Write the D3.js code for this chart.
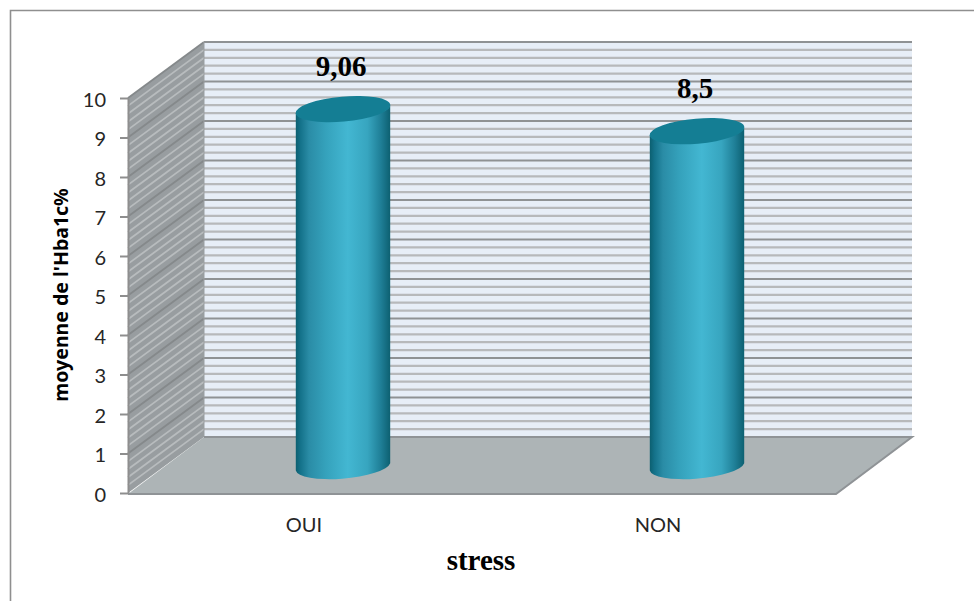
<!DOCTYPE html>
<html>
<head>
<meta charset="utf-8">
<script src="https://cdn.jsdelivr.net/npm/d3@7"></script>
<style>
  html, body { margin: 0; padding: 0; background: #fff; }
  svg { display: block; }
</style>
</head>
<body>
<svg id="chart" width="974" height="602"></svg>
<script>
const categories = ["OUI", "NON"];
const values = [9.06, 8.5];
const valueLabels = ["9,06", "8,5"];
const yTickValues = [0, 1, 2, 3, 4, 5, 6, 7, 8, 9, 10];
const minorStep = 0.2;
const yTitle = "moyenne de l'Hba1c%";
const xTitle = "stress";

const svg = d3.select("#chart");
const depth = { x: 76, y: -56 };

const y = d3.scaleLinear().domain([0, 10]).range([493, 98]);
const x = d3.scaleBand().domain(categories).range([128, 836]);
const gridValues = d3.range(0, 50 + 1).map(i => i * minorStep);
const isMajor = v => Math.abs(v - Math.round(v)) < 1e-6;

// Horizontal shading of the cylinders
const defs = svg.append("defs");
const grad = defs.append("linearGradient").attr("id", "cyl")
  .attr("x1", 0).attr("x2", 1).attr("y1", 0).attr("y2", 0);
[[0, "#0c5f70"], [0.05, "#14728a"], [0.14, "#2a8ca6"], [0.32, "#35a2bc"],
 [0.55, "#43b7d2"], [0.76, "#37a5bf"], [0.9, "#1f7f97"], [1, "#0d6071"]]
  .forEach(([o, c]) => grad.append("stop").attr("offset", o).attr("stop-color", c));

// Outer frame (open on the right and at the bottom)
svg.append("path")
  .attr("d", "M10.5,601V10.5H974")
  .attr("fill", "none").attr("stroke", "#8f8f8f").attr("stroke-width", 1.6);

const x0 = x.range()[0], x1 = x.range()[1];
const backL = x0 + depth.x, backR = x1 + depth.x;

// Back wall
svg.append("rect")
  .attr("x", backL).attr("y", y(10) + depth.y)
  .attr("width", backR - backL).attr("height", y(0) - y(10))
  .attr("fill", "#e7eef7");

// Side wall
svg.append("path")
  .attr("d", d3.line()([[x0, y(0)], [x0, y(10)], [backL, y(10) + depth.y], [backL, y(0) + depth.y]]) + "Z")
  .attr("fill", "#989da0");

// Grid lines on both walls, drawn minor first so majors sit on top
const ordered = gridValues.slice().sort((a, b) => isMajor(a) - isMajor(b));
const grid = svg.append("g").attr("fill", "none");
ordered.filter(v => v > 0).forEach(v => {
  const major = isMajor(v);
  grid.append("line")
    .attr("x1", backL).attr("x2", backR)
    .attr("y1", y(v) + depth.y).attr("y2", y(v) + depth.y)
    .attr("stroke", major ? "#8f9294" : "#b7b9bb")
    .attr("stroke-width", 2.2);
  grid.append("line")
    .attr("x1", x0).attr("x2", backL)
    .attr("y1", y(v)).attr("y2", y(v) + depth.y)
    .attr("stroke", major ? "#85898b" : "#b8bcbe")
    .attr("stroke-width", 1.8);
});

// Wall edge at the back corner
svg.append("line")
  .attr("x1", backL).attr("x2", backL)
  .attr("y1", y(10) + depth.y).attr("y2", y(0) + depth.y)
  .attr("stroke", "#9a9ea1").attr("stroke-width", 1);

// Floor
svg.append("path")
  .attr("d", d3.line()([[x0, y(0) + 1], [backL, y(0) + depth.y], [backR, y(0) + depth.y], [x1, y(0) + 1]]) + "Z")
  .attr("fill", "#adb4b6");
svg.append("path")
  .attr("d", d3.line()([[backL, y(0) + depth.y], [backR, y(0) + depth.y], [x1, y(0) + 1], [x0, y(0) + 1]]))
  .attr("fill", "none").attr("stroke", "#8f9396").attr("stroke-width", 2);

// Cylinders stand halfway into the depth of the floor
const rx = 47.5, ry = 12.5, tilt = -5, edgeX = 47.2, edgeY = 3.6;
const scaleValue = v => y(v) + depth.y * 0.465;
const cx = c => x(c) + x.bandwidth() / 2 + depth.x * 0.5;
const bars = svg.append("g");
categories.forEach((c, i) => {
  const px = cx(c), top = scaleValue(values[i]), base = scaleValue(0);
  bars.append("path")
    .attr("d", `M${px - edgeX},${top + edgeY}L${px - edgeX},${base + edgeY}` +
      `A${rx},${ry} ${tilt} 0 0 ${px + edgeX},${base - edgeY}` +
      `L${px + edgeX},${top - edgeY}` +
      `A${rx},${ry} ${tilt} 0 1 ${px - edgeX},${top + edgeY}Z`)
    .attr("fill", "url(#cyl)");
  bars.append("ellipse")
    .attr("rx", rx).attr("ry", ry)
    .attr("transform", `translate(${px},${top}) rotate(${tilt})`)
    .attr("fill", "#147e94");
  svg.append("text")
    .attr("x", px - 2).attr("y", top - 33)
    .attr("text-anchor", "middle")
    .attr("font-family", "'Liberation Serif', serif")
    .attr("font-weight", 700).attr("font-size", 29).attr("fill", "#000")
    .text(valueLabels[i]);
});

// Value axis
const yAxis = svg.append("g").attr("transform", `translate(${x0},0)`)
  .call(d3.axisLeft(y).tickValues(yTickValues).tickSize(8).tickPadding(14).tickSizeOuter(0));
yAxis.select(".domain").attr("stroke", "#8e8e8e").attr("stroke-width", 2);
yAxis.selectAll(".tick line").attr("stroke", "#8e8e8e").attr("stroke-width", 2);
yAxis.selectAll("text")
  .attr("y", 2)
  .attr("font-family", "Lato, sans-serif").attr("font-size", 20).attr("fill", "#262626");

// Category labels
svg.append("g").selectAll("text").data(categories).join("text")
  .attr("x", d => x(d) + x.bandwidth() / 2 - 1)
  .attr("y", 532)
  .attr("text-anchor", "middle")
  .attr("font-family", "Lato, sans-serif").attr("font-size", 20).attr("fill", "#262626")
  .text(d => d);

// Axis titles
svg.append("text")
  .attr("x", 481).attr("y", 570).attr("text-anchor", "middle")
  .attr("font-family", "'Liberation Serif', serif")
  .attr("font-weight", 700).attr("font-size", 29).attr("fill", "#000")
  .text(xTitle);
svg.append("text")
  .attr("transform", "translate(68,295) rotate(-90)")
  .attr("text-anchor", "middle")
  .attr("font-family", "'Noto Sans', sans-serif")
  .attr("font-weight", 700).attr("font-size", 19.5).attr("fill", "#000")
  .text(yTitle);
</script>
</body>
</html>
